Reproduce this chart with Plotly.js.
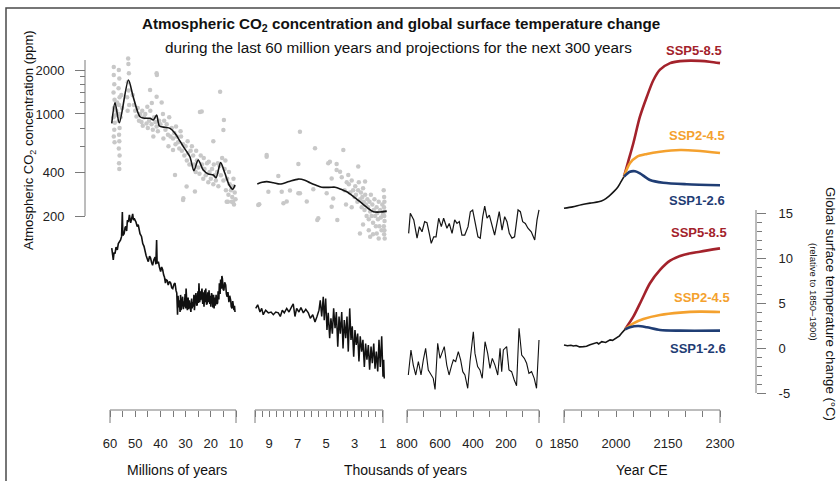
<!DOCTYPE html>
<html><head><meta charset="utf-8">
<script src="https://cdn.plot.ly/plotly-3.0.1.min.js"></script>
<style>html,body{margin:0;padding:0;background:#fff}#chart{width:840px;height:481px}</style>
</head><body><div id="chart"></div>
<script>
// ---------------- DATA ----------------
// Panel 1: millions of years ago
const p1Co2Myr = [59.3,58.0,56.3,52.7,50.8,48.1,46.1,44.1,42.8,41.5,40.4,38.2,36.2,34.2,32.9,30.9,28.3,26.7,25.0,23.0,21.0,19.0,17.9,16.1,14.4,12.7,11.3,10.4];
const p1Co2Ppm = [863,1194,871,1708,1312,957,934,934,909,984,827,810,797,737,681,597,509,409,484,413,388,382,366,464,392,326,305,326];
const p1DotPairs = [
 [58.5,2100],[58.5,1850],[58.3,1600],[58.6,1400],[58.2,1250],[58.4,1100],[58.6,950],[58.1,870],[58.3,780],[58.5,700],[58.2,640],
 [56.5,2000],[56.3,1750],[56.6,1500],[56.2,1300],[56.4,1150],[56.3,1000],[56.5,900],[56.2,800],[56.4,720],[56.3,650],[56.5,580],[56.2,520],[56.4,460],[56.3,420],
 [55.5,1350],[55.2,1100],[55.8,950],[57.5,1050],[57.2,1200],[57.8,980],
 [52.8,2400],[52.7,2200],[52.5,1900],[52.9,1650],[52.6,1450],[53.2,1300],[52.4,1150],[53.0,1050],
 [51.0,1350],[50.5,1150],[50.0,1050],[49.5,960],[49.0,1100],[48.5,900],[48.0,1000],[47.5,880],[47.0,830],[46.5,950],[46.0,1000],[45.5,860],[45.0,800],[44.5,900],[44.0,1050],[43.5,850],[43.0,780],[42.5,950],[42.0,880],[41.5,820],[41.0,760],[40.5,900],[40.0,850],
 [41.5,1900],[44.1,1460],[41.5,1310],[43.4,1190],
 [39.5,1200],[39.0,1000],[38.5,900],[38.0,780],[37.5,850],[37.0,720],[36.5,950],[36.0,700],[35.5,800],[35.0,680],[34.5,740],[34.0,620],[33.5,700],[33.0,640],[32.5,580],[32.0,760],[31.5,560],[31.0,620],[30.5,520],[30.0,600],[29.5,480],[29.0,540],[28.5,450],[28.0,560],
 [34.2,382],[35.0,566],[23.6,1040],[30.9,265],[29.6,318],[26.3,294],
 [27.0,520],[26.5,450],[26.0,400],[25.5,480],[25.0,430],[24.5,390],[24.0,520],[23.5,450],[23.0,360],[22.5,420],[22.0,380],[21.5,460],[21.0,340],[20.5,400],[20.0,360],[19.5,420],[19.0,330],[18.5,380],[18.0,350],[17.5,400],[17.0,320],[16.5,440],[16.0,380],[15.5,500],[15.0,350],[14.5,420],[14.0,300],[13.5,360],[13.0,280],[12.5,330],[12.0,300],[11.5,270],[11.0,320],[10.5,290],[10.2,260],
 [16.3,1420],[14.8,909],[15.0,776],[19.0,650],[13.7,250],[11.7,250],[13.2,250],[11.2,250],[31.0,257],[24.3,1030],[41.4,1850],
 [45.2,1120],[47.2,1050],[42.8,700],[38.8,680],[36.8,600],[33.8,820],[31.8,700],[29.2,650],[27.5,600],[25.8,560],[22.8,500],[20.8,470],[18.8,450],[17.2,460],[14.2,480],[12.8,400],[11.0,360],[10.8,240]
];
const p1TempMyr = [59.3,59.0,58.7,58.4,58.0,57.6,57.1,56.7,56.3,55.8,55.4,55.1,54.9,54.4,54.0,53.7,53.4,53.1,52.7,52.3,51.8,51.4,51.0,50.7,50.4,49.7,49.2,48.8,48.4,48.1,47.5,47.0,46.5,46.1,45.7,45.2,44.8,44.3,43.9,43.5,43.1,42.6,42.1,41.8,41.5,41.3,40.8,40.4,39.9,39.5,39.1,38.7,38.4,38.0,37.8,37.3,36.9,36.4,35.9,35.5,35.1,34.6,34.2,33.8,33.5,33.2,33.0,32.7,32.5,32.2,32.0,31.8,31.5,31.2,30.9,30.7,30.5,30.2,30.0,29.8,29.5,29.3,29.0,28.8,28.5,28.2,27.9,27.6,27.4,27.2,26.9,26.7,26.5,26.2,25.9,25.6,25.4,25.1,24.9,24.7,24.4,24.2,24.0,23.8,23.5,23.2,23.0,22.7,22.4,22.2,22.0,21.7,21.4,21.2,20.9,20.7,20.4,20.2,20.0,19.7,19.4,19.2,18.9,18.7,18.4,18.2,17.9,17.6,17.3,17.1,16.8,16.6,16.3,16.1,15.8,15.6,15.4,15.1,14.8,14.5,14.1,13.8,13.5,13.2,12.8,12.5,12.1,11.9,11.6,11.3,11.1,10.8,10.6,10.4];
const p1TempC = [11.1,10.2,9.8,10.6,10.5,11.2,10.9,11.6,11.8,12.0,12.4,15.1,12.5,12.7,13.4,13.5,13.0,14.2,14.0,14.8,13.9,14.6,14.9,14.2,14.4,14.0,13.5,13.7,12.9,12.7,12.4,11.6,11.3,10.6,10.3,9.9,9.6,10.2,10.0,9.5,9.2,9.8,10.1,9.3,12.0,9.4,9.6,9.0,8.5,9.0,8.7,8.1,7.9,7.2,7.6,7.5,7.0,7.4,7.2,6.7,6.6,7.1,7.2,6.4,6.1,3.7,5.8,4.5,5.3,4.0,5.9,4.2,5.5,5.7,4.3,5.2,4.6,6.0,4.4,6.6,4.8,4.2,5.6,4.3,5.3,4.6,4.0,5.5,4.4,5.1,4.6,5.9,4.2,5.4,6.1,4.7,4.8,6.3,5.0,7.2,5.1,6.3,5.3,6.0,6.6,4.9,6.2,4.6,6.4,5.1,6.6,4.8,5.0,6.2,5.1,6.4,4.9,5.8,4.6,6.1,5.7,4.5,5.9,4.4,5.6,4.7,5.9,4.9,5.0,6.3,5.4,7.2,6.0,7.6,6.6,8.0,7.7,6.5,6.4,7.3,7.0,6.0,5.7,6.2,5.1,5.8,5.3,4.6,4.4,5.2,4.8,4.2,4.7,4.0];

// Panel 2: thousands of years ago
const p2Co2Kyr = [9.84,9.5,9.18,8.7,8.24,7.6,6.95,6.5,6.13,5.7,5.31,4.8,4.37,3.95,3.55,3.1,2.62,2.15,1.68,1.21,0.74];
const p2Co2Ppm = [331,340,344,338,331,345,358,352,338,325,315,314,315,305,293,273,251,230,214,213,216];
const p2DotPairs = [
 [9.18,509],[6.95,454],[8.36,376],[9.06,293],[9.7,241],[8.12,293],[7.54,299],[7.77,251],[6.95,286],[6.84,286],[6.36,251],[5.9,305],[5.62,188],[4.85,460],[4.26,454],[4.21,188],[4.61,362],[4.02,402],[3.9,368],[3.44,382],[4.96,286],[4.5,264],[4.61,231],
 [9.18,523],[6.84,755],[5.78,582],[4.73,471],[3.79,566],[4.26,413],[2.74,436],[2.26,344],[8.0,245],[9.77,238],[5.55,193],[2.62,152],[1.9,144],[1.44,152],
 [3.4,330],[3.3,290],[3.2,350],[3.1,300],[3.0,270],[2.95,320],[2.9,280],[2.8,250],[2.75,300],[2.7,340],[2.6,260],[2.55,290],[2.5,230],[2.45,270],[2.4,310],[2.35,250],[2.3,220],[2.25,280],[2.2,240],[2.15,200],[2.1,260],[2.05,230],[2.0,190],[1.95,250],[1.9,215],[1.85,280],[1.8,200],[1.75,240],[1.7,180],[1.65,220],[1.6,260],[1.55,200],[1.5,170],[1.45,230],[1.4,210],[1.35,190],[1.3,250],[1.25,170],[1.2,220],[1.15,195],[1.1,160],[1.05,240],[1.0,205],
 [0.95,300],[0.92,270],[0.9,250],[0.93,230],[0.88,215],[0.91,200],[0.89,185],[0.94,170],[0.9,160],[0.92,150],[0.88,140],
 [2.0,160],[1.7,150],[1.3,140],[2.4,175],[3.2,230],[3.6,240],[3.7,300],[3.55,340]
];
const p2TempKyr = [9.95,9.81,9.65,9.53,9.42,9.25,9.06,8.87,8.71,8.54,8.36,8.22,8.08,7.94,7.77,7.61,7.42,7.31,7.19,7.07,6.91,6.77,6.60,6.43,6.25,6.11,5.94,5.78,5.64,5.50,5.41,5.31,5.20,5.13,5.03,4.94,4.85,4.75,4.66,4.56,4.47,4.37,4.28,4.18,4.09,4.00,3.90,3.81,3.72,3.62,3.53,3.44,3.34,3.25,3.16,3.06,2.97,2.88,2.78,2.69,2.60,2.50,2.41,2.31,2.22,2.13,2.03,1.94,1.84,1.75,1.65,1.56,1.47,1.37,1.28,1.19,1.09,1.00,0.95,0.91];
const p2TempC = [4.4,4.8,4.0,4.4,3.7,4.2,3.9,4.0,3.7,4.0,3.9,3.5,4.2,3.9,4.4,4.0,4.6,4.9,3.5,4.4,4.0,4.5,3.9,4.3,3.9,3.3,3.7,2.9,3.5,4.2,5.3,3.5,5.7,3.1,5.5,2.0,3.9,1.1,3.3,1.6,4.4,2.2,4.0,0.15,3.5,1.6,4.0,-0.04,3.1,1.1,3.5,-0.4,4.4,0.9,2.4,-0.96,2.0,0.33,1.6,-1.5,1.3,-0.4,0.9,-2.1,0.5,-1.3,0.33,-2.4,0.15,-1.7,0.5,-2.3,-0.4,-2.6,0.9,-2.1,1.3,-3.2,-1.3,-3.4];

// Panel 3: years ago (glacial cycles)
const p3Co2Yr = [790,780,759,739,725,709,693,679,665,653,638,624,608,592,578,558,544,527,511,497,483,467,450,430,416,402,386,370,356,341,329,315,301,285,269,255,241,224,208,194,180,164,148,127,113,99,83,67,47,26,12,0];
const p3Co2Ppm = [152,209,188,141,169,156,183,180,152,130,144,144,193,169,193,165,178,152,188,178,183,148,148,169,214,220,178,144,141,198,234,193,203,169,148,178,214,160,198,183,152,141,144,220,214,183,178,165,156,137,188,220];
const p3TempYr = [792,776,762,747,731,715,701,687,671,655,641,630,614,600,590,574,559,545,529,519,505,489,475,462,449,432,418,408,398,388,372,358,344,327,311,297,283,267,250,236,226,216,196,182,166,150,136,121,105,89,75,61,45,29,15,0];
const p3TempC = [-3.0,-0.22,-1.9,-3.0,-1.5,-3.0,-1.33,-0.04,-2.44,-3.0,-3.37,-4.6,0.52,-1.15,-0.6,0.15,-1.9,-3.0,-1.9,-1.33,-1.5,-0.4,-1.33,-2.63,-3.0,-4.48,-1.5,0.15,1.81,-0.6,-2.07,-2.44,-3.37,0.7,-0.6,-2.26,-1.15,-1.9,-3.0,-0.04,-2.63,-0.22,0.15,-2.44,-2.63,-3.56,-4.2,2.19,-0.78,-1.15,-1.7,-2.81,-2.63,-3.37,-4.48,0.89];

// Panel 4: Year CE, historical and SSP projections
const histYear = [1850,1875,1900,1925,1950,1965,1980,1995,2005,2015,2023];
const histCo2 = [226,231,239,245,250,258,274,296,315,345,372];
const ssp585Year = [2023,2035,2050,2069,2089,2108,2127,2156,2185,2214,2242,2270,2300];
const ssp585Co2 = [372,470,630,957,1312,1708,2010,2230,2300,2320,2310,2280,2230];
const ssp245Year = [2023,2040,2060,2089,2127,2185,2233,2300];
const ssp245Co2 = [372,459,509,532,551,566,560,540];
const ssp126Year = [2023,2040,2055,2069,2098,2136,2204,2300];
const ssp126Co2 = [372,402,405,392,353,338,330,325];

const histTYear = [1850,1860,1870,1877,1885,1895,1906,1915,1925,1935,1945,1950,1959,1970,1983,1990,2002,2010,2016,2026];
const histTemp = [0.33,0.25,0.30,0.22,0.28,0.12,0.15,0.20,0.35,0.52,0.60,0.45,0.70,0.62,0.90,0.85,1.19,1.35,1.63,2.07];
const ssp585TYear = [2026,2050,2074,2098,2127,2156,2194,2242,2300];
const ssp585Temp = [2.07,3.48,5.33,7.19,8.67,9.70,10.33,10.70,11.07];
const ssp245TYear = [2026,2050,2079,2127,2185,2242,2300];
const ssp245Temp = [2.07,2.74,3.22,3.67,3.93,4.04,4.00];
const ssp126TYear = [2026,2040,2064,2089,2127,2185,2300];
const ssp126Temp = [2.07,2.30,2.44,2.30,2.00,1.93,1.93];

// Axis ticks
const p1Ticks = [60,50,40,30,20,10], p1Minor = [55,45,35,25,15];
const p2Ticks = [9,7,5,3,1], p2Minor = [10,9.5,8.5,8,7.5,6.5,6,5.5,4.5,4,3.5,2.5,2,1.5];
const p3Ticks = [800,600,400,200,0], p3Minor = [700,500,300,100];
const p4Ticks = [1850,2000,2150,2300], p4Minor = [1900,1950,2050,2100,2200,2250];
const co2Ticks = [200,400,1000,2000], co2Minor = [600,800,1200,1400,1600,1800];
const tempTicks = [-5,0,5,10,15], tempMinor = [-4,-3,-2,-1,1,2,3,4,6,7,8,9,11,12,13,14];
const sspNames = ['SSP5-8.5','SSP2-4.5','SSP1-2.6'];

// ---------------- STYLE / LAYOUT ----------------
const W = 840, H = 481;
const px = x => x / W, py = y => 1 - y / H;
const FONT = '"Liberation Sans", Arial, sans-serif';
const AX = '#7a7a7a';
const C585 = '#a3222b', C245 = '#f4a12e', C126 = '#1f3d74';

const traces = [];
function line(x, y, xa, ya, color, width, shape) {
  traces.push({type:'scatter', mode:'lines', x:x, y:y, xaxis:xa, yaxis:ya,
    line:{color:color, width:width, shape:shape||'linear', smoothing:0.8}, hoverinfo:'skip'});
}
function dots(pairs, xa) {
  traces.push({type:'scatter', mode:'markers', x:pairs.map(p=>p[0]), y:pairs.map(p=>p[1]),
    xaxis:xa, yaxis:'y', marker:{color:'#c8c8c8', size:4.5}, hoverinfo:'skip'});
}
dots(p1DotPairs, 'x');
dots(p2DotPairs, 'x2');
line(p1Co2Myr, p1Co2Ppm, 'x', 'y', '#151515', 1.6, 'spline');
line(p2Co2Kyr, p2Co2Ppm, 'x2', 'y', '#151515', 1.6, 'spline');
line(p3Co2Yr, p3Co2Ppm, 'x3', 'y', '#151515', 1.2);
line(histYear, histCo2, 'x4', 'y', '#151515', 1.6, 'spline');
line(ssp585Year, ssp585Co2, 'x4', 'y', C585, 2.6, 'spline');
line(ssp245Year, ssp245Co2, 'x4', 'y', C245, 2.6, 'spline');
line(ssp126Year, ssp126Co2, 'x4', 'y', C126, 2.6, 'spline');
line(p1TempMyr, p1TempC, 'x', 'y2', '#111', 1.6);
line(p2TempKyr, p2TempC, 'x2', 'y2', '#111', 1.5);
line(p3TempYr, p3TempC, 'x3', 'y2', '#111', 1.1);
line(histTYear, histTemp, 'x4', 'y2', '#151515', 1.6);
line(ssp585TYear, ssp585Temp, 'x4', 'y2', C585, 2.6, 'spline');
line(ssp245TYear, ssp245Temp, 'x4', 'y2', C245, 2.6, 'spline');
line(ssp126TYear, ssp126Temp, 'x4', 'y2', C126, 2.6, 'spline');

const tickFont = {family:FONT, size:13, color:'#222'};
function xax(dom, range, major, minor) {
  return {domain:[px(dom[0]), px(dom[1])], range:range, anchor:'free', position:py(410),
    showline:false, showgrid:false, zeroline:false, ticks:'outside', ticklen:6, tickcolor:AX, tickwidth:1,
    tickmode:'array', tickvals:major, ticktext:major.map(String), tickfont:tickFont, ticklabelstandoff:15,
    minor:{tickmode:'array', tickvals:minor, ticks:'outside', ticklen:6, tickcolor:AX, tickwidth:1, showgrid:false},
    fixedrange:true};
}
// y-pixel mapping: CO2 200ppm at y=216, 2000ppm at y=70 ; temp 0 at y=348, 9 px per degree
const co2Range = [Math.log10(200) - (H - 216) / 146, Math.log10(200) + 216 / 146];
const tempRange = [(348 - H) / 9, 348 / 9];

const brackets = [['x',60,10],['x2',10,1],['x3',800,0],['x4',1850,2300]];
const shapes = [
  {type:'rect', xref:'paper', yref:'paper', x0:px(6), x1:px(860), y0:py(8), y1:py(500), line:{color:'#4a4a4a', width:1.5}},
  {type:'line', xref:'paper', yref:'paper', x0:px(85), x1:px(85), y0:py(60), y1:py(216), line:{color:AX, width:1}},
  {type:'line', xref:'paper', yref:'paper', x0:px(756), x1:px(756), y0:py(210), y1:py(393), line:{color:AX, width:1}}
];
brackets.forEach(b => {
  shapes.push({type:'line', xref:b[0], yref:'paper', x0:b[1], x1:b[2], y0:py(410), y1:py(410), line:{color:AX, width:1}});
  shapes.push({type:'line', xref:b[0], yref:'paper', x0:b[1], x1:b[1], y0:py(410), y1:py(423), line:{color:AX, width:1}});
  shapes.push({type:'line', xref:b[0], yref:'paper', x0:b[2], x1:b[2], y0:py(410), y1:py(423), line:{color:AX, width:1}});
});

function ann(text, x, y, size, opts) {
  return Object.assign({text:text, xref:'paper', yref:'paper', x:px(x), y:py(y), xanchor:'center', yanchor:'middle',
    showarrow:false, font:{family:FONT, size:size, color:'#111'}}, opts||{});
}
function sspAnn(i, x, y, color) {
  return ann('<b>' + sspNames[i] + '</b>', x, y, 13, {font:{family:FONT, size:13, color:color}});
}
const annotations = [
  ann('<b>Atmospheric CO<sub>2</sub> concentration and global surface temperature change</b>', 401, 25, 15.2),
  ann('during the last 60 million years and projections for the next 300 years', 398, 47, 15.3),
  ann('Atmospheric CO<sub>2</sub> concentration (ppm)', 29, 140, 13, {textangle:-90}),
  ann('Global surface temperature change (°C)', 831, 304, 13.2, {textangle:90}),
  ann('(relative to 1850–1900)', 814, 292, 9.5, {textangle:90}),
  ann('Millions of years', 177, 470, 14),
  ann('Thousands of years', 405, 470, 14),
  ann('Year CE', 642, 470, 14),
  sspAnn(0, 694, 50, C585),
  sspAnn(1, 697, 135, C245),
  sspAnn(2, 697, 200, C126),
  sspAnn(0, 699, 232, C585),
  sspAnn(1, 702, 297, C245),
  sspAnn(2, 698, 348, C126)
];

const layout = {
  width:W, height:H, margin:{l:0, r:0, t:0, b:0}, showlegend:false,
  paper_bgcolor:'#fff', plot_bgcolor:'rgba(0,0,0,0)', font:{family:FONT, color:'#222'},
  xaxis: xax([108,238], [60 + 2/2.52, 10 - 2/2.52], p1Ticks, p1Minor),
  xaxis2: xax([253,392], [10 + 2/14.22, 10 - 137/14.22], p2Ticks, p2Minor),
  xaxis3: xax([404,546], [800 + 3*800/132, 800 - 139*800/132], p3Ticks, p3Minor),
  xaxis4: xax([561,724], [1850 - 3*450/156, 2300 + 4*450/156], p4Ticks, p4Minor),
  yaxis: {type:'log', domain:[0,1], range:co2Range, anchor:'free', position:px(85), side:'left',
    showline:false, showgrid:false, zeroline:false, ticks:'outside', ticklen:10, tickcolor:AX, tickwidth:1,
    tickmode:'array', tickvals:co2Ticks, ticktext:co2Ticks.map(String), tickfont:tickFont, ticklabelstandoff:8,
    minor:{tickmode:'array', tickvals:co2Minor, ticks:'outside', ticklen:5, tickcolor:AX, tickwidth:1, showgrid:false},
    fixedrange:true},
  yaxis2: {domain:[0,1], range:tempRange, anchor:'free', position:px(756), side:'right', overlaying:'y',
    showline:false, showgrid:false, zeroline:false, ticks:'outside', ticklen:9, tickcolor:AX, tickwidth:1,
    tickmode:'array', tickvals:tempTicks, ticktext:tempTicks.map(String), tickfont:tickFont, ticklabelstandoff:10,
    minor:{tickmode:'array', tickvals:tempMinor, ticks:'outside', ticklen:5, tickcolor:AX, tickwidth:1, showgrid:false},
    fixedrange:true},
  shapes:shapes, annotations:annotations
};
Plotly.newPlot('chart', traces, layout, {staticPlot:true, displayModeBar:false});
</script></body></html>
